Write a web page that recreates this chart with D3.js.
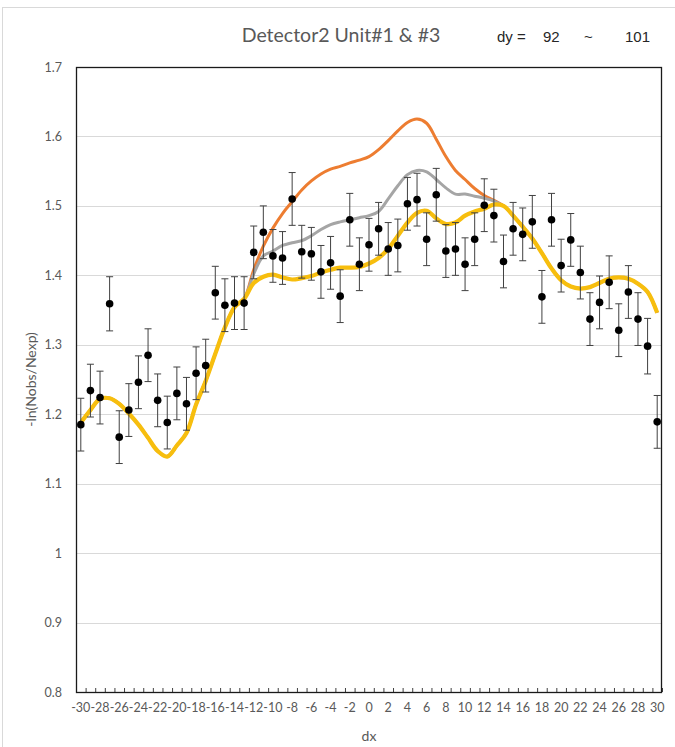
<!DOCTYPE html>
<html>
<head>
<meta charset="utf-8">
<script src="https://cdn.jsdelivr.net/npm/d3@7"></script>
<style>
  html, body { margin: 0; padding: 0; background: #fff; }
  svg { display: block; }
</style>
</head>
<body>
<script>
// ---------- data ----------
const dxValues = [-30,-29,-28,-27,-26,-25,-24,-23,-22,-21,-20,-19,-18,-17,-16,-15,-14,-13,-12,-11,-10,-9,-8,-7,-6,-5,-4,-3,-2,-1,0,1,2,3,4,5,6,7,8,9,10,11,12,13,14,15,16,17,18,19,20,21,22,23,24,25,26,27,28,29,30];

const observed = [1.185,1.234,1.224,1.359,1.167,1.206,1.246,1.285,1.220,1.188,1.230,1.215,1.259,1.270,1.375,1.357,1.360,1.360,1.433,1.462,1.428,1.425,1.510,1.434,1.431,1.405,1.418,1.370,1.480,1.416,1.444,1.467,1.438,1.443,1.503,1.509,1.452,1.516,1.435,1.438,1.416,1.452,1.501,1.486,1.420,1.467,1.459,1.477,1.369,1.480,1.414,1.451,1.404,1.337,1.361,1.390,1.321,1.376,1.337,1.298,1.189];

const errorBars = [0.038,0.038,0.038,0.039,0.038,0.038,0.038,0.038,0.038,0.038,0.038,0.038,0.038,0.038,0.038,0.038,0.038,0.038,0.038,0.038,0.038,0.038,0.038,0.038,0.038,0.038,0.038,0.038,0.038,0.038,0.038,0.038,0.038,0.038,0.038,0.038,0.038,0.038,0.038,0.038,0.038,0.038,0.038,0.038,0.038,0.038,0.038,0.038,0.038,0.038,0.038,0.038,0.038,0.038,0.038,0.038,0.038,0.038,0.038,0.040,0.038];

const curveOrange = [1.188,1.206,1.222,1.223,1.215,1.201,1.185,1.166,1.147,1.139,1.155,1.173,1.214,1.248,1.287,1.325,1.354,1.366,1.408,1.442,1.468,1.489,1.506,1.523,1.536,1.546,1.553,1.557,1.562,1.566,1.571,1.581,1.594,1.608,1.620,1.625,1.619,1.596,1.571,1.551,1.538,1.525,1.515,1.508,1.500,1.486,1.470,1.453,1.432,1.410,1.393,1.384,1.381,1.383,1.389,1.395,1.397,1.395,1.388,1.376,1.346];

const curveGray = [1.188,1.206,1.222,1.223,1.215,1.201,1.185,1.166,1.147,1.139,1.155,1.173,1.214,1.248,1.287,1.325,1.354,1.366,1.402,1.428,1.435,1.443,1.447,1.450,1.457,1.466,1.473,1.477,1.480,1.483,1.486,1.492,1.510,1.529,1.545,1.551,1.549,1.538,1.526,1.517,1.517,1.514,1.511,1.507,1.500,1.486,1.470,1.453,1.432,1.410,1.393,1.384,1.381,1.383,1.389,1.395,1.397,1.395,1.388,1.376,1.346];

const curveYellow = [1.188,1.206,1.222,1.223,1.215,1.201,1.185,1.166,1.147,1.139,1.155,1.173,1.214,1.248,1.287,1.325,1.354,1.366,1.389,1.398,1.401,1.397,1.394,1.396,1.399,1.404,1.408,1.411,1.411,1.412,1.417,1.425,1.438,1.457,1.476,1.490,1.493,1.482,1.474,1.476,1.486,1.492,1.496,1.502,1.500,1.486,1.470,1.453,1.432,1.410,1.393,1.384,1.381,1.383,1.389,1.395,1.397,1.395,1.388,1.376,1.346];

const yTickValues = [0.8,0.9,1.0,1.1,1.2,1.3,1.4,1.5,1.6,1.7];
const xLabelValues = [-30,-28,-26,-24,-22,-20,-18,-16,-14,-12,-10,-8,-6,-4,-2,0,2,4,6,8,10,12,14,16,18,20,22,24,26,28,30];

const titleText = "Detector2 Unit#1 & #3";
const dyLabel = "dy =";
const dyFrom = "92";
const dyTilde = "~";
const dyTo = "101";
const xTitle = "dx";
const yTitle = "-ln(Nobs/Nexp)";

// ---------- layout ----------
const W = 675, H = 747;
const plot = { left: 76, right: 662, top: 67, bottom: 692 };
const font = "Lato, 'Liberation Sans', sans-serif";

const svg = d3.select("body").append("svg").attr("width", W).attr("height", H);

// outer frame
svg.append("rect")
  .attr("x", 2.5).attr("y", 7.5).attr("width", 700).attr("height", 760)
  .attr("fill", "none").attr("stroke", "#d9d9d9").attr("stroke-width", 1);

const x = d3.scaleBand().domain(dxValues).range([plot.left, plot.right]).paddingInner(0).paddingOuter(0);
const xc = d => x(d) + x.bandwidth() / 2;
const xb = d3.scaleLinear().domain([-30.5, 30.5]).range([plot.left, plot.right]);
const y = d3.scaleLinear().domain([0.8, 1.7]).range([plot.bottom, plot.top]);

// gridlines
svg.append("g").selectAll("line").data(yTickValues.slice(1, -1)).join("line")
  .attr("x1", plot.left).attr("x2", plot.right)
  .attr("y1", d => Math.round(y(d)) + 0.5).attr("y2", d => Math.round(y(d)) + 0.5)
  .attr("stroke", "#d9d9d9").attr("stroke-width", 1);

// y axis labels
const yAxis = d3.axisLeft(y).tickValues(yTickValues).tickSize(0).tickPadding(14)
  .tickFormat(d => String(Math.round(d * 10) / 10));
const gy = svg.append("g").attr("transform", `translate(${plot.left},0)`).call(yAxis);
gy.select(".domain").remove();
gy.selectAll("text").attr("font-family", font).attr("font-size", 12.5).attr("fill", "#595959");

// x axis labels
const xAxis = d3.axisBottom(x).tickValues(xLabelValues).tickSize(0).tickPadding(11);
const gx = svg.append("g").attr("transform", `translate(0,${plot.bottom})`).call(xAxis);
gx.select(".domain").remove();
gx.selectAll("text").attr("font-family", font).attr("font-size", 12.5).attr("fill", "#595959");

// x tick marks at category boundaries (pointing inward)
const boundaries = dxValues.map(d => d - 0.5).concat([30.5]);
const xTicks = d3.axisBottom(xb).tickValues(boundaries).tickSize(-4).tickFormat("");
const gt = svg.append("g").attr("transform", `translate(0,${plot.bottom})`).call(xTicks);
gt.select(".domain").remove();
gt.selectAll("line").attr("stroke", "#404040");

// plot border
svg.append("rect")
  .attr("x", plot.left + 0.5).attr("y", plot.top + 0.5)
  .attr("width", plot.right - plot.left - 1).attr("height", plot.bottom - plot.top)
  .attr("fill", "none").attr("stroke", "#1a1a1a").attr("stroke-width", 1.3);

// lines
const line = d3.line().x((d, i) => xc(dxValues[i])).y(d => y(d)).curve(d3.curveCatmullRom.alpha(0.5));
svg.append("path").datum(curveOrange).attr("d", line).attr("fill", "none")
  .attr("stroke", "#ED7D31").attr("stroke-width", 3).attr("stroke-linejoin", "round");
svg.append("path").datum(curveGray).attr("d", line).attr("fill", "none")
  .attr("stroke", "#A5A5A5").attr("stroke-width", 3).attr("stroke-linejoin", "round");
svg.append("path").datum(curveYellow).attr("d", line).attr("fill", "none")
  .attr("stroke", "#F7BE0E").attr("stroke-width", 4.2).attr("stroke-linejoin", "round");

// error bars
const eb = svg.append("g").attr("stroke", "#404040").attr("stroke-width", 1);
const pts = dxValues.map((d, i) => ({ dx: d, v: observed[i], e: errorBars[i] }));
eb.selectAll("line.v").data(pts).join("line").attr("class", "v")
  .attr("x1", d => xc(d.dx)).attr("x2", d => xc(d.dx))
  .attr("y1", d => y(d.v + d.e)).attr("y2", d => y(d.v - d.e));
eb.selectAll("line.t").data(pts).join("line").attr("class", "t")
  .attr("x1", d => xc(d.dx) - 3.5).attr("x2", d => xc(d.dx) + 3.5)
  .attr("y1", d => y(d.v + d.e)).attr("y2", d => y(d.v + d.e));
eb.selectAll("line.b").data(pts).join("line").attr("class", "b")
  .attr("x1", d => xc(d.dx) - 3.5).attr("x2", d => xc(d.dx) + 3.5)
  .attr("y1", d => y(d.v - d.e)).attr("y2", d => y(d.v - d.e));

// points
svg.append("g").selectAll("circle").data(pts).join("circle")
  .attr("cx", d => xc(d.dx)).attr("cy", d => y(d.v)).attr("r", 3.8).attr("fill", "#000");

// title
svg.append("text").attr("x", 341).attr("y", 42).attr("text-anchor", "middle")
  .attr("font-family", font).attr("font-size", 19.5).attr("fill", "#595959").text(titleText);
const dyg = svg.append("g").attr("font-family", "'Liberation Sans', Arial, sans-serif").attr("font-size", 15).attr("fill", "#262626");
dyg.append("text").attr("x", 497).attr("y", 42).text(dyLabel);
dyg.append("text").attr("x", 543).attr("y", 42).text(dyFrom);
dyg.append("text").attr("x", 584).attr("y", 42).text(dyTilde);
dyg.append("text").attr("x", 625).attr("y", 42).text(dyTo);

// axis titles
svg.append("text").attr("x", 369).attr("y", 741).attr("text-anchor", "middle")
  .attr("font-family", font).attr("font-size", 14).attr("fill", "#595959").text(xTitle);
svg.append("text").attr("transform", `translate(36,${(plot.top + plot.bottom) / 2}) rotate(-90)`)
  .attr("text-anchor", "middle").attr("font-family", font).attr("font-size", 14).attr("fill", "#595959").text(yTitle);
</script>
</body>
</html>
